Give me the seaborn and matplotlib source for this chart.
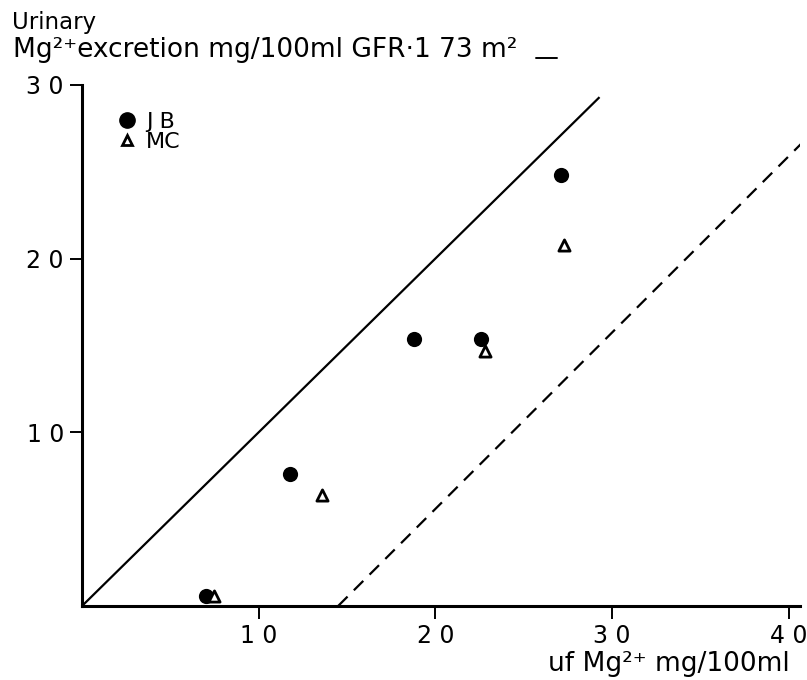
import matplotlib
matplotlib.use("Agg")
import matplotlib.pyplot as plt
import seaborn as sns
import pandas as pd
from matplotlib.lines import Line2D

# Data
jb_x = [7.0, 11.8, 18.8, 22.6, 27.1]
jb_y = [0.6, 7.6, 15.4, 15.4, 24.8]
mc_x = [7.5, 13.6, 22.8, 27.3]
mc_y = [0.6, 6.4, 14.7, 20.8]

# Reference lines
solid_x = [0.0, 29.3]
solid_y = [0.0, 29.3]
dashed_x = [14.5, 40.8]
dashed_y = [0.0, 26.7]

x_ticks = [10, 20, 30, 40]
x_tick_labels = ["1 0", "2 0", "3 0", "4 0"]
y_ticks = [10, 20, 30]
y_tick_labels = ["1 0", "2 0", "3 0"]

sns.set_theme(style="white")
plt.rcParams["font.family"] = ["DejaVu Sans"]
plt.rcParams["text.color"] = "black"
plt.rcParams["axes.labelcolor"] = "black"

fig = plt.figure(figsize=(8.07, 6.80), dpi=100)
ax = fig.add_axes([82 / 807, 74 / 680, (800 - 82) / 807, (606 - 85) / 680])

df_jb = pd.DataFrame({"x": jb_x, "y": jb_y})
df_mc = pd.DataFrame({"x": mc_x, "y": mc_y})

ax.plot(solid_x, solid_y, color="black", lw=1.6, solid_capstyle="butt")
ax.plot(dashed_x, dashed_y, color="black", lw=1.6, dashes=(6, 4))

sns.scatterplot(data=df_jb, x="x", y="y", ax=ax, marker="o", s=120,
                color="black", edgecolor="black", linewidth=0, zorder=3)
sns.scatterplot(data=df_mc, x="x", y="y", ax=ax, marker="^", s=65,
                facecolor="white", edgecolor="black", linewidth=2, zorder=4)

ax.set_xlim(0, 40.65)
ax.set_ylim(0, 30)
ax.set_xticks(x_ticks)
ax.set_xticklabels(x_tick_labels, fontsize=17)
ax.set_yticks(y_ticks)
ax.set_yticklabels(y_tick_labels, fontsize=17)
ax.tick_params(axis="both", direction="out", length=9, width=1.4,
               color="black", pad=4, labelcolor="black", bottom=True, left=True)
for s in ["top", "right"]:
    ax.spines[s].set_visible(False)
for s in ["left", "bottom"]:
    ax.spines[s].set_color("black")
    ax.spines[s].set_linewidth(2.2)
ax.set_xlabel("")
ax.set_ylabel("")
ax.grid(False)

handles = [
    Line2D([], [], marker="o", color="black", lw=0, markersize=11),
    Line2D([], [], marker="^", markerfacecolor="white", markeredgecolor="black",
           markeredgewidth=2, lw=0, markersize=7.5),
]
ax.legend(handles, ["J B", "MC"], loc="upper left", frameon=False,
          bbox_to_anchor=(118 / 807, 1 - 112 / 680), bbox_transform=fig.transFigure,
          fontsize=16, handletextpad=0.4, labelspacing=0.0, handlelength=0.85,
          borderaxespad=0, borderpad=0)

fig.text(12 / 807, 1 - 29 / 680, "Urinary", fontsize=16.5, va="baseline", ha="left")
fig.text(13 / 807, 1 - 57 / 680,
         "Mg\u00b2\u207aexcretion mg/100ml GFR\u00b71 73 m\u00b2",
         fontsize=19, va="baseline", ha="left")
fig.add_artist(Line2D([536 / 807, 557 / 807], [1 - 58 / 680, 1 - 58 / 680],
                      color="black", lw=1.4))
fig.text(790 / 807, 1 - 671 / 680, "uf Mg\u00b2\u207a mg/100ml", fontsize=19,
         va="baseline", ha="right")

fig.savefig("out.png", dpi=100)
